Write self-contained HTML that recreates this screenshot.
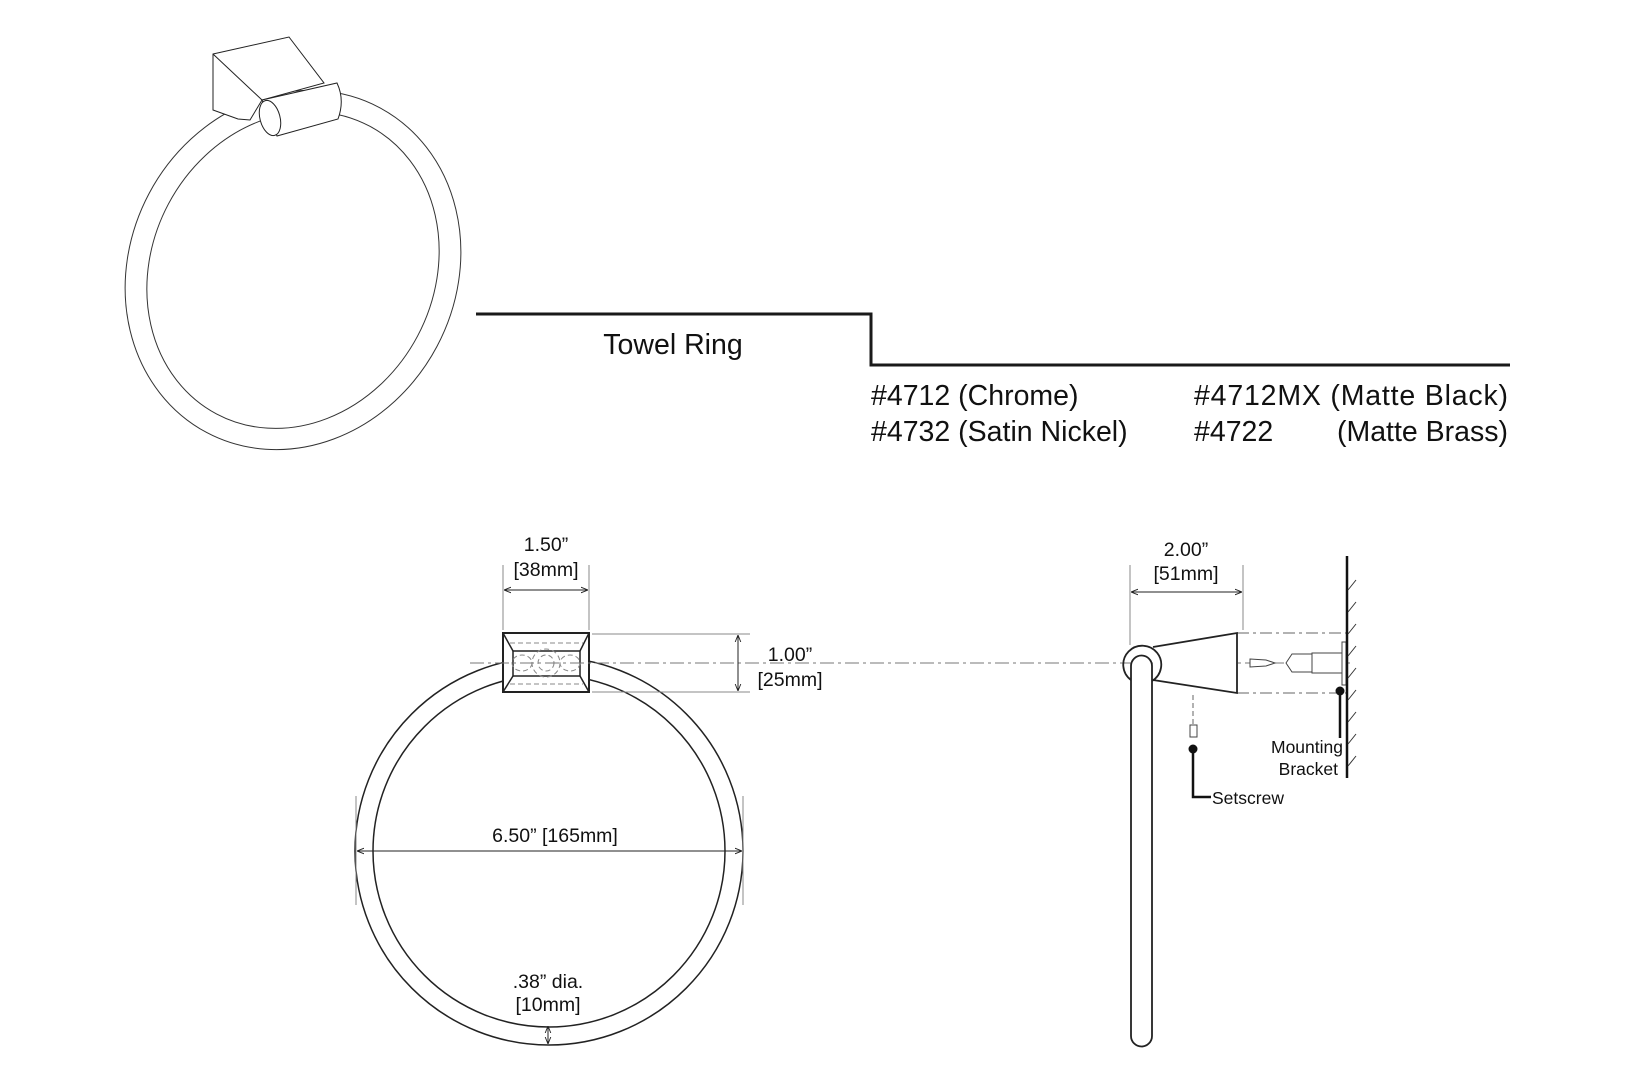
<!DOCTYPE html>
<html><head><meta charset="utf-8"><style>
html,body{margin:0;padding:0;background:#fff;width:1625px;height:1080px;overflow:hidden}
svg text{font-family:"Liberation Sans",Arial,sans-serif;fill:#111}
</style></head><body>
<svg width="1625" height="1080" viewBox="0 0 1625 1080" xmlns="http://www.w3.org/2000/svg">
<defs>
<marker id="a" viewBox="0 0 10 10" refX="10" refY="5" markerWidth="7" markerHeight="7" orient="auto-start-reverse"><path d="M0,1 L10,5 L0,9" fill="none" stroke="#222" stroke-width="1.3"/></marker>
</defs>
<!-- iso ring -->
<g fill="none" stroke="#333" stroke-width="1">
<ellipse cx="293" cy="270" rx="163" ry="184" transform="rotate(28 293 270)"/>
<ellipse cx="293" cy="270" rx="141" ry="163" transform="rotate(28 293 270)"/>
</g>
<g fill="#fff" stroke="#222" stroke-width="1">
<path d="M213,54 L289,37 L324,83 L262,100 L250,120 L238,119 L213,110 Z"/>
<path d="M213,54 L262,100"/>
<path d="M262,100 L337,83 Q345,100 338,119 L277,136 Z"/>
<ellipse cx="270" cy="118" rx="10" ry="18" transform="rotate(-15 270 118)"/>
</g>
<!-- title -->
<polyline points="476,314 871,314 871,365 1510,365" fill="none" stroke="#1a1a1a" stroke-width="3"/>
<text x="673" y="354" font-size="28.5" text-anchor="middle">Towel Ring</text>
<text x="871" y="405" font-size="28.5">#4712 (Chrome)</text>
<text x="871" y="441" font-size="28.5">#4732 (Satin Nickel)</text>
<text x="1194" y="405" font-size="28.5" textLength="314">#4712MX (Matte Black)</text>
<text x="1194" y="441" font-size="28.5">#4722</text>
<text x="1508" y="441" font-size="28.5" text-anchor="end">(Matte Brass)</text>
<!-- front view -->
<g fill="none" stroke="#222" stroke-width="1.5">
<circle cx="549" cy="851" r="194"/>
<circle cx="549" cy="851" r="176"/>
</g>
<rect x="503" y="633" width="86" height="59" fill="#fff" stroke="#222" stroke-width="2"/>
<rect x="513" y="651" width="67" height="25" fill="none" stroke="#222" stroke-width="1.5"/>
<g stroke="#222" stroke-width="1.5"><line x1="503" y1="633" x2="513" y2="651"/><line x1="589" y1="633" x2="580" y2="651"/><line x1="503" y1="692" x2="513" y2="676"/><line x1="589" y1="692" x2="580" y2="676"/></g>
<g fill="none" stroke="#888" stroke-width="1" stroke-dasharray="5,3">
<circle cx="546" cy="663" r="14"/><circle cx="546" cy="663" r="8"/>
<ellipse cx="522" cy="663" rx="10" ry="8"/><ellipse cx="570" cy="663" rx="10" ry="8"/>
<line x1="510" y1="643" x2="583" y2="643"/><line x1="510" y1="684" x2="583" y2="684"/>
</g>
<!-- centerline -->
<line x1="470" y1="663" x2="1350" y2="663" stroke="#777" stroke-width="1" stroke-dasharray="14,4,3,4"/>
<!-- dims front -->
<g stroke="#888" stroke-width="1" fill="none">
<line x1="503" y1="565" x2="503" y2="630"/><line x1="589" y1="565" x2="589" y2="630"/>
<line x1="592" y1="634" x2="750" y2="634"/><line x1="592" y1="692" x2="750" y2="692"/>
<line x1="356" y1="796" x2="356" y2="905"/><line x1="743" y1="796" x2="743" y2="905"/>
</g>
<g stroke="#222" stroke-width="1" fill="none">
<line x1="504" y1="590" x2="588" y2="590" marker-start="url(#a)" marker-end="url(#a)"/>
<line x1="738" y1="635" x2="738" y2="691" marker-start="url(#a)" marker-end="url(#a)"/>
<line x1="357" y1="851" x2="742" y2="851" marker-start="url(#a)" marker-end="url(#a)"/>
<line x1="548" y1="1026" x2="548" y2="1044" marker-start="url(#a)" marker-end="url(#a)"/>
</g>
<g font-size="19.5" text-anchor="middle">
<text x="546" y="551">1.50”</text><text x="546" y="576">[38mm]</text>
<text x="790" y="661">1.00”</text><text x="790" y="686">[25mm]</text>
<text x="555" y="842">6.50” [165mm]</text>
<text x="548" y="988">.38” dia.</text><text x="548" y="1011">[10mm]</text>
<text x="1186" y="556">2.00”</text><text x="1186" y="580">[51mm]</text>
</g>
<!-- side view -->
<g stroke="#888" stroke-width="1" fill="none">
<line x1="1130" y1="565" x2="1130" y2="645"/><line x1="1243" y1="565" x2="1243" y2="630"/>
</g>
<line x1="1131" y1="592" x2="1242" y2="592" stroke="#222" stroke-width="1" marker-start="url(#a)" marker-end="url(#a)"/>
<g stroke="#666" stroke-width="1" stroke-dasharray="12,4,3,4"><line x1="1237" y1="633" x2="1346" y2="633"/><line x1="1237" y1="693" x2="1346" y2="693"/></g>
<path d="M1153,647 L1237,633 L1237,693 L1153,680" fill="#fff" stroke="#222" stroke-width="1.8"/>
<path d="M1131,1036 L1131,666 A10.5,10.5 0 0 1 1152,666 L1152,1036 A10.5,10.5 0 0 1 1131,1036 Z" fill="#fff" stroke="#222" stroke-width="1.8"/>
<path d="M1131,680 A19,19 0 1 1 1152,681" fill="none" stroke="#222" stroke-width="1.8"/>
<!-- screw & anchor -->
<g stroke="#444" stroke-width="1" fill="#fff">
<path d="M1250,659 L1266,660 L1275,663 L1266,666 L1250,667 Z"/>
<path d="M1286,663 L1292,654 L1312,654 L1312,672 L1292,672 Z"/>
<rect x="1312" y="653" width="30" height="20"/>
<rect x="1342" y="642" width="4" height="43"/>
</g>
<line x1="1347" y1="556" x2="1347" y2="778" stroke="#111" stroke-width="2.5"/>
<g stroke="#333" stroke-width="1">
<line x1="1348" y1="590" x2="1356" y2="580"/><line x1="1348" y1="612" x2="1356" y2="602"/><line x1="1348" y1="634" x2="1356" y2="624"/><line x1="1348" y1="656" x2="1356" y2="646"/><line x1="1348" y1="678" x2="1356" y2="668"/><line x1="1348" y1="700" x2="1356" y2="690"/><line x1="1348" y1="722" x2="1356" y2="712"/><line x1="1348" y1="744" x2="1356" y2="734"/><line x1="1348" y1="766" x2="1356" y2="756"/>
</g>
<circle cx="1340" cy="691" r="4.5" fill="#111"/>
<line x1="1340" y1="691" x2="1340" y2="738" stroke="#111" stroke-width="2.5"/>
<text x="1343" y="753" font-size="17.5" text-anchor="end">Mounting</text>
<text x="1338" y="775" font-size="17.5" text-anchor="end">Bracket</text>
<line x1="1193" y1="695" x2="1193" y2="724" stroke="#666" stroke-width="1" stroke-dasharray="5,3"/>
<rect x="1190" y="725" width="7" height="12" fill="#fff" stroke="#444" stroke-width="1"/>
<circle cx="1193" cy="749" r="4.5" fill="#111"/>
<polyline points="1193,749 1193,797 1211,797" fill="none" stroke="#111" stroke-width="2.5"/>
<text x="1212" y="804" font-size="17.5">Setscrew</text>
</svg>
</body></html>
